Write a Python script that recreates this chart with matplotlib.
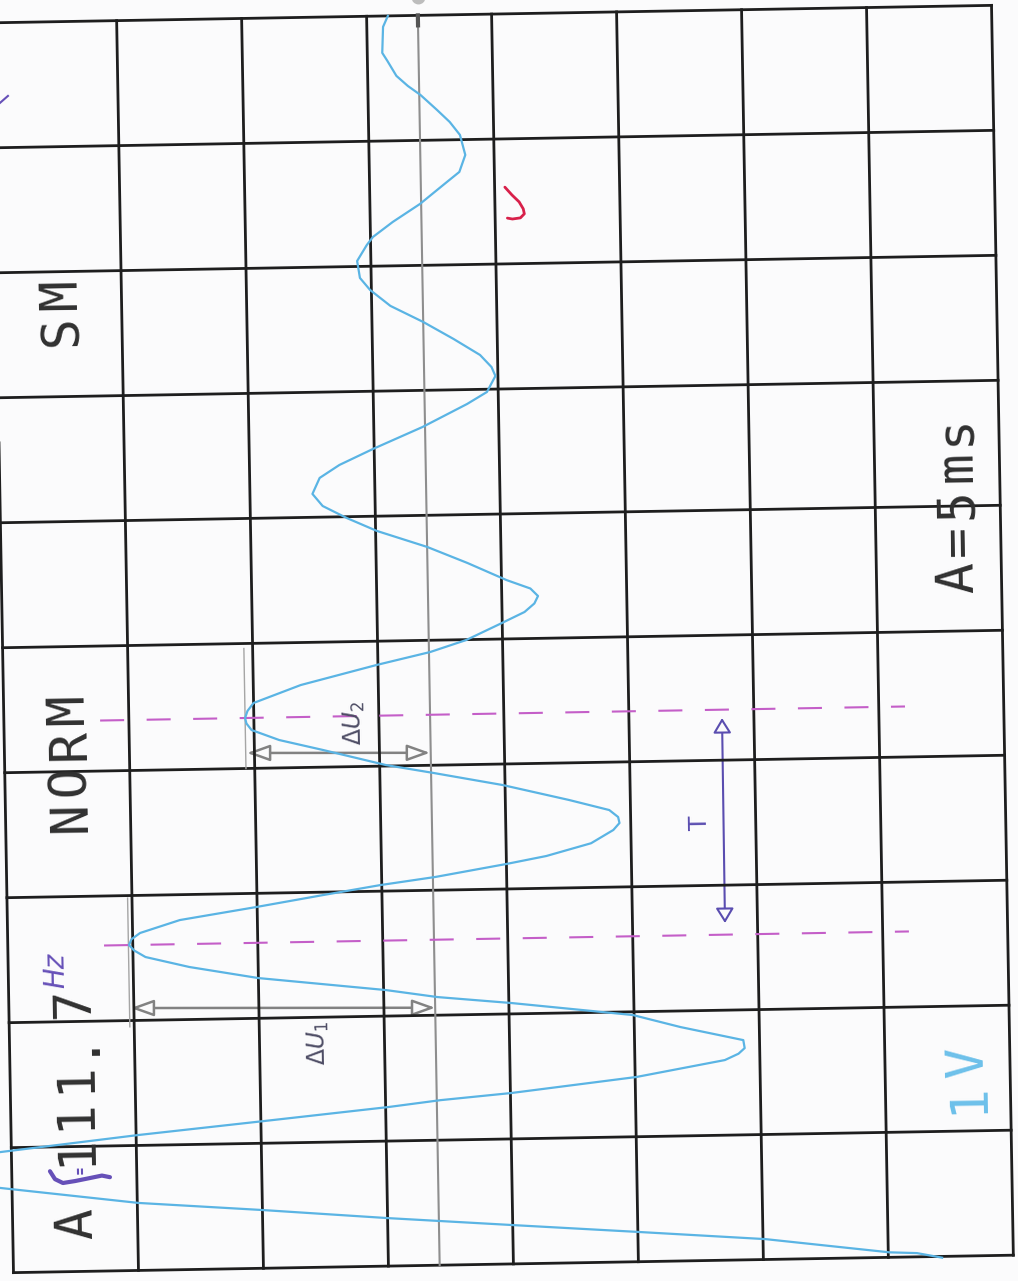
import matplotlib
matplotlib.use("Agg")
import matplotlib.pyplot as plt
from matplotlib.transforms import Affine2D
from matplotlib.patches import FancyArrowPatch

plt.rcParams["lines.scale_dashes"] = False

# ---------------- data (screen divisions) ----------------
# time in divisions (0 = bottom of printed screen, increasing upwards)
trace_time_div = [-0.01, 0.03, 0.04, 0.163, 0.237, 0.31, 0.384, 0.466, 0.54, 0.68,
                  0.76, 0.83, 0.90, 0.966, 1.083, 1.177, 1.272, 1.32, 1.367, 1.478,
                  1.601, 1.65, 1.694, 1.758, 1.871, 1.974, 2.087, 2.145, 2.208, 2.322, 2.42,
                  2.506, 2.56, 2.604, 2.65, 2.699, 2.797, 2.89, 2.977, 3.049, 3.106, 3.20, 3.258,
                  3.354, 3.457, 3.512, 3.56, 3.617, 3.703, 3.832, 3.938, 4.008, 4.137, 4.223,
                  4.307, 4.36, 4.404, 4.46, 4.523, 4.66, 4.81, 4.906, 4.997, 5.12, 5.213, 5.28, 5.339,
                  5.40, 5.471, 5.613, 5.747, 5.882, 5.99, 6.089, 6.187, 6.314, 6.415, 6.538,
                  6.707, 6.885, 6.978, 7.105, 7.177, 7.275, 7.407, 7.547, 7.68, 7.81,
                  7.908, 8.044, 8.171, 8.234, 8.351, 8.491, 8.664, 8.742, 8.877, 9.038,
                  9.143, 9.241, 9.363, 9.437, 9.519, 9.64, 9.705, 9.913, 10.0]
# voltage in divisions relative to the zero line (positive = towards page left)
trace_volt_div = [-4.02, -3.82, -3.60, -2.61, -1.61, -0.60, 0.41, 1.41, 2.40, 3.51,
                  4.20, 4.45, 4.20, 3.50, 2.395, 1.39, 0.39, -0.03, -0.595, -1.60,
                  -2.31, -2.42, -2.47, -2.46, -1.96, -1.58, -0.61, -0.02, 0.39, 1.41, 1.96,
                  2.31, 2.40, 2.44, 2.42, 2.35, 2.03, 1.42, 0.88, 0.42, -0.02, -0.59, -0.91,
                  -1.27, -1.45, -1.50, -1.49, -1.42, -1.10, -0.57, -0.02, 0.36, 0.86, 1.21,
                  1.43, 1.47, 1.48, 1.46, 1.41, 1.03, 0.42, -0.01, -0.30, -0.57, -0.77, -0.85, -0.88,
                  -0.82, -0.63, -0.32, 0.00, 0.40, 0.64, 0.83, 0.91, 0.85, 0.69, 0.42,
                  0.02, -0.34, -0.50, -0.57, -0.54, -0.45, -0.24, 0.00, 0.26, 0.42,
                  0.50, 0.52, 0.44, 0.39, 0.23, 0.01, -0.21, -0.31, -0.36, -0.32,
                  -0.24, -0.14, -0.01, 0.09, 0.18, 0.25, 0.29, 0.28, 0.24]

zero_line_u = 3.41          # position of zero line across the screen (div)
n_cols, n_rows = 8, 10

# cursor / marker lines (time of the two minima used for T)
cursor_times = [2.604, 4.404]
du1 = dict(u_start=0.975, v_start=7.90, u_end=3.41, v_end=7.94)
du2 = dict(u_start=1.94, v_start=5.876, u_end=3.404, v_end=5.90)
ext_lines = [(0.965, 7.02, 8.05), (1.93, 5.04, 6.0)]
period_arrow = dict(u_start=5.745, v_start=5.663, u_end=5.74, v_end=7.303)

left_texts = [("A 111.7", 9.62, 0.295), ("NORM", 6.36, 0.287), ("SM", 2.47, 0.29)]
right_texts = [("A=5ms", 4.574, 0.296)]
channel_text = ("1V", 8.736, 0.288)

red_mark_u = [4.082, 4.138, 4.194, 4.226, 4.234, 4.202, 4.138, 4.098]
red_mark_v = [1.386, 1.45, 1.506, 1.562, 1.602, 1.634, 1.642, 1.634]
f_mark_u = [0.306, 0.345, 0.408, 0.506, 0.625, 0.721, 0.785]
f_mark_v = [9.194, 9.258, 9.29, 9.276, 9.254, 9.236, 9.25]

# ---------------- figure ----------------
BG = "#fbfbfc"
fig = plt.figure(figsize=(10.18, 12.81), dpi=100)
fig.patch.set_facecolor(BG)
ax = fig.add_axes([0, 0, 1, 1])
ax.set_xlim(0, 1018)
ax.set_ylim(1281, 0)
ax.axis("off")

DIV = 125.0
T = Affine2D().scale(DIV).translate(2.5, 14).rotate_deg_around(502.5, 639, -1.0) + ax.transData
ROT = 91

GRID = "#1e1e1e"
for i in range(n_cols + 1):
    ax.plot([i, i], [0, n_rows], color=GRID, lw=2.0, transform=T, solid_capstyle="projecting")
for j in range(n_rows + 1):
    ax.plot([0, n_cols], [j, j], color=GRID, lw=2.0, transform=T, solid_capstyle="projecting")

# zero line
GREY = "#8e8e8e"
ax.plot([zero_line_u, zero_line_u], [0, n_rows], color=GREY, lw=1.5, transform=T)
ax.plot([zero_line_u, zero_line_u], [0.0, 0.08], color="#555555", lw=3, transform=T)
ax.plot([zero_line_u], [-0.15], marker="o", ms=9, color="#bdbdbd", transform=T)

# extension lines
for u, v0, v1 in ext_lines:
    ax.plot([u, u], [v0, v1], color="#a5a5a5", lw=1.0, transform=T)

# magenta cursors
for tc in cursor_times:
    v = n_rows - tc
    ax.plot([0.77, 7.21], [v, v], color="#c45ec8", lw=1.5, dashes=(17.3, 16.2), transform=T)

# trace
u_tr = [zero_line_u - x for x in trace_volt_div]
v_tr = [n_rows - t for t in trace_time_div]
ax.plot(u_tr, v_tr, color="#5ab4e4", lw=1.6, transform=T, solid_joinstyle="round")

# delta U arrows
for d in (du1, du2):
    ar = FancyArrowPatch((d["u_start"], d["v_start"]), (d["u_end"], d["v_end"]),
                         arrowstyle="<|-|>,head_length=1.4,head_width=0.5", mutation_scale=10,
                         color="#828282", fc=BG, lw=1.8, shrinkA=0, shrinkB=0, transform=T)
    ax.add_patch(ar)

pa = period_arrow
ar = FancyArrowPatch((pa["u_start"], pa["v_start"]), (pa["u_end"], pa["v_end"]),
                     arrowstyle="<|-|>,head_length=0.9,head_width=0.55", mutation_scale=10,
                     color="#5a4db0", fc=BG, lw=1.5, shrinkA=0, shrinkB=0, transform=T)
ax.add_patch(ar)
ax.text(5.55, 6.5, "T", transform=T, rotation=ROT, rotation_mode="anchor",
        ha="center", va="center", fontsize=17, color="#5a4db0", family="DejaVu Sans")

# handwritten labels
LAB = "#4d4c64"
ax.text(2.468, 8.206, r"$\Delta U_1$", transform=T, rotation=ROT, rotation_mode="anchor",
        ha="center", va="center", fontsize=17, color=LAB)
ax.text(2.808, 5.651, r"$\Delta U_2$", transform=T, rotation=ROT, rotation_mode="anchor",
        ha="center", va="center", fontsize=17, color=LAB)

# printed texts
FONT = dict(family=["DejaVu Sans Mono", "DejaVu Sans"], fontweight="normal")
def put_chars(s, u_base, v_first, pitch, color, size):
    for k, ch in enumerate(s):
        if ch == " ":
            continue
        ax.text(u_base, v_first - k * pitch, ch, transform=T, rotation=ROT,
                rotation_mode="anchor", ha="center", va="baseline",
                fontsize=size, color=color, **FONT)

for s, v0, p in left_texts:
    put_chars(s, 0.635, v0, p, "#303030", 37)
for s, v0, p in right_texts:
    put_chars(s, 7.77, v0, p, "#303030", 37)
put_chars(channel_text[0], 7.78, channel_text[1], channel_text[2], "#6cc0ea", 37)

# purple handwriting
PURPLE = "#6650b8"
ax.plot(f_mark_u, f_mark_v, color=PURPLE, lw=3, transform=T, solid_capstyle="round")
ax.plot([0.53, 0.53], [9.185, 9.217], color=PURPLE, lw=1.5, transform=T)
ax.plot([0.562, 0.562], [9.185, 9.217], color=PURPLE, lw=1.5, transform=T)
ax.text(0.382, 7.586, "Hz", transform=T, rotation=ROT, rotation_mode="anchor",
        ha="center", va="center", fontsize=20, style="italic", color=PURPLE)
ax.plot([0.055, 0.12], [0.642, 0.587], color=PURPLE, lw=1.5, transform=T)

# red check mark
ax.plot(red_mark_u, red_mark_v, color="#d8204a", lw=2, transform=T, solid_capstyle="round")

fig.savefig("out.png", dpi=100, facecolor=BG)
